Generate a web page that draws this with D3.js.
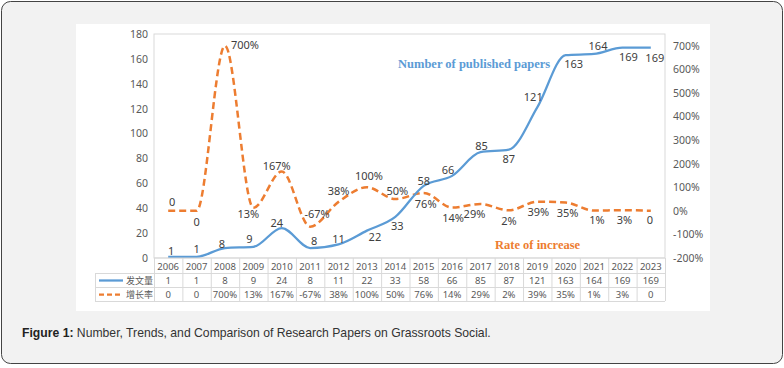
<!DOCTYPE html>
<html><head><meta charset="utf-8">
<script src="https://cdn.jsdelivr.net/npm/d3@7/dist/d3.min.js"></script>
<style>
html,body{margin:0;padding:0;background:#fff;}
svg{display:block;}
</style></head>
<body>
<svg id="c" width="784" height="368"></svg>
<script>
// ---- data ----
const years = ["2006","2007","2008","2009","2010","2011","2012","2013","2014","2015","2016","2017","2018","2019","2020","2021","2022","2023"];
const papers = [1,1,8,9,24,8,11,22,33,58,66,85,87,121,163,164,169,169];
const growth = [0,0,700,13,167,-67,38,100,50,76,14,29,2,39,35,1,3,0];
const growthLabels = ["0","0","700%","13%","167%","-67%","38%","100%","50%","76%","14%","29%","2%","39%","35%","1%","3%","0"];
const leftTicks = [0,20,40,60,80,100,120,140,160,180];
const rightTicks = [-200,-100,0,100,200,300,400,500,600,700];
const seriesNames = ["发文量","增长率"];

// ---- layout (label placement offsets, not data) ----
const blueOff = [[3,-6],[0,-8],[-3,-5],[-4,-8],[-5,-6],[4,-8],[0,-6],[8,6],[2,9],[0,-5],[-4,-6],[1,-7],[0,9],[-4,-11],[8,8],[4,-8],[6,9],[4,10]];
const orangeOff = [[4,-9],[0,11],[20,-1],[-5,6],[-5,-6],[7,-13],[0,-11],[2,-12],[2,-9],[2,11],[1,10],[-6,9],[0,10],[1,10],[2,10],[3,9],[2,9],[-1,9]];

const svg = d3.select("#c");
const blue = "#5b9bd5", orange = "#ed7d31";
const font = "'Noto Sans', 'Open Sans', sans-serif";

// outer frame
svg.append("rect").attr("x",1.5).attr("y",1.5).attr("width",781).attr("height",362)
  .attr("rx",9).attr("fill","#f2f2f2").attr("stroke","#444").attr("stroke-width",1);
// white chart image
svg.append("rect").attr("x",76).attr("y",24).attr("width",634).attr("height",287).attr("fill","#fff");

const x = d3.scaleBand().domain(years).range([154,665]);
const xc = d => x(d) + x.bandwidth()/2;
const yL = d3.scaleLinear().domain([0,180]).range([258,34]);
const yR = d3.scaleLinear().domain([-200,750]).range([258,34]);

// plot area border
svg.append("rect").attr("x",154).attr("y",34).attr("width",511).attr("height",224)
  .attr("fill","none").attr("stroke","#d9d9d9").attr("stroke-width",1);

// axes
const gL = svg.append("g").attr("transform","translate(152,0)")
  .call(d3.axisLeft(yL).tickValues(leftTicks).tickSize(0).tickPadding(4));
const gR = svg.append("g").attr("transform","translate(669,0)")
  .call(d3.axisRight(yR).tickValues(rightTicks).tickSize(0).tickPadding(4).tickFormat(d => d + "%"));
[gL,gR].forEach(g => {
  g.select(".domain").remove();
  g.selectAll("text").attr("fill","#595959").style("font-family",font).style("font-size","10.5px");
});

// lines
const curve = d3.curveMonotoneX;
const lineB = d3.line().x((d,i)=>xc(years[i])).y(d=>yL(d)).curve(curve);
const lineO = d3.line().x((d,i)=>xc(years[i])).y(d=>yR(d)).curve(curve);
svg.append("path").attr("d",lineO(growth)).attr("fill","none").attr("stroke",orange)
  .attr("stroke-width",2.5).attr("stroke-dasharray","7,4");
svg.append("path").attr("d",lineB(papers)).attr("fill","none").attr("stroke",blue)
  .attr("stroke-width",2.25);

// data labels
svg.append("g").selectAll("text").data(papers).join("text")
  .attr("x",(d,i)=>xc(years[i])+blueOff[i][0]).attr("y",(d,i)=>yL(d)+blueOff[i][1])
  .attr("text-anchor","middle").attr("dominant-baseline","central")
  .attr("fill","#404040").style("font-family",font).style("font-size","11px").text(d=>d);
svg.append("g").selectAll("text").data(growth).join("text")
  .attr("x",(d,i)=>xc(years[i])+orangeOff[i][0]).attr("y",(d,i)=>yR(d)+orangeOff[i][1])
  .attr("text-anchor","middle").attr("dominant-baseline","central")
  .attr("fill","#404040").style("font-family",font).style("font-size","11px").text((d,i)=>growthLabels[i]);

// annotations
svg.append("text").attr("x",398).attr("y",64).attr("dominant-baseline","central")
  .attr("fill",blue).style("font-family","'Liberation Serif', 'Times New Roman', serif")
  .style("font-weight","bold").style("font-size","12.5px").text("Number of published papers");
svg.append("text").attr("x",495).attr("y",245).attr("dominant-baseline","central")
  .attr("fill",orange).style("font-family","'Liberation Serif', 'Times New Roman', serif")
  .style("font-weight","bold").style("font-size","12.5px").text("Rate of increase");

// data table
const tg = svg.append("g");
const grid = "#d9d9d9";
tg.append("line").attr("x1",154).attr("x2",665).attr("y1",258).attr("y2",258).attr("stroke",grid);
[273,287,301].forEach(y => tg.append("line").attr("x1",95).attr("x2",665).attr("y1",y+0.5).attr("y2",y+0.5).attr("stroke",grid));
years.forEach(yr => tg.append("line").attr("x1",x(yr)+0.5).attr("x2",x(yr)+0.5).attr("y1",258).attr("y2",301).attr("stroke",grid));
tg.append("line").attr("x1",665.5).attr("x2",665.5).attr("y1",258).attr("y2",301).attr("stroke",grid);
tg.append("line").attr("x1",95.5).attr("x2",95.5).attr("y1",273).attr("y2",301).attr("stroke",grid);
const tfs = "9.5px";
tg.selectAll("text.yr").data(years).join("text").attr("class","yr")
  .attr("x",d=>xc(d)).attr("y",266).attr("text-anchor","middle").attr("dominant-baseline","central")
  .attr("fill","#595959").style("font-family",font).style("font-size",tfs).text(d=>d);
tg.selectAll("text.r1").data(papers).join("text").attr("class","r1")
  .attr("x",(d,i)=>xc(years[i])).attr("y",280.5).attr("text-anchor","middle").attr("dominant-baseline","central")
  .attr("fill","#595959").style("font-family",font).style("font-size",tfs).text(d=>d);
tg.selectAll("text.r2").data(growthLabels).join("text").attr("class","r2")
  .attr("x",(d,i)=>xc(years[i])).attr("y",294.5).attr("text-anchor","middle").attr("dominant-baseline","central")
  .attr("fill","#595959").style("font-family",font).style("font-size",tfs).text(d=>d);
tg.append("line").attr("x1",99).attr("x2",123).attr("y1",280.5).attr("y2",280.5).attr("stroke",blue).attr("stroke-width",2.25);
tg.append("line").attr("x1",99).attr("x2",123).attr("y1",294.5).attr("y2",294.5).attr("stroke",orange).attr("stroke-width",2.25).attr("stroke-dasharray","5,3");
tg.selectAll("text.lg").data(seriesNames).join("text").attr("class","lg")
  .attr("x",126).attr("y",(d,i)=>i?294.5:280.5).attr("dominant-baseline","central")
  .attr("fill","#595959").style("font-family","'Noto Sans CJK SC', sans-serif").style("font-size","9px").text(d=>d);

// caption
const cap = svg.append("text").attr("x",22).attr("y",333).attr("dominant-baseline","central")
  .style("font-family","'Liberation Sans', Arial, sans-serif").style("font-size","12.2px");
cap.append("tspan").attr("font-weight","bold").attr("fill","#222").text("Figure 1:");
cap.append("tspan").attr("fill","#333").text(" Number, Trends, and Comparison of Research Papers on Grassroots Social.");
</script>
</body></html>
